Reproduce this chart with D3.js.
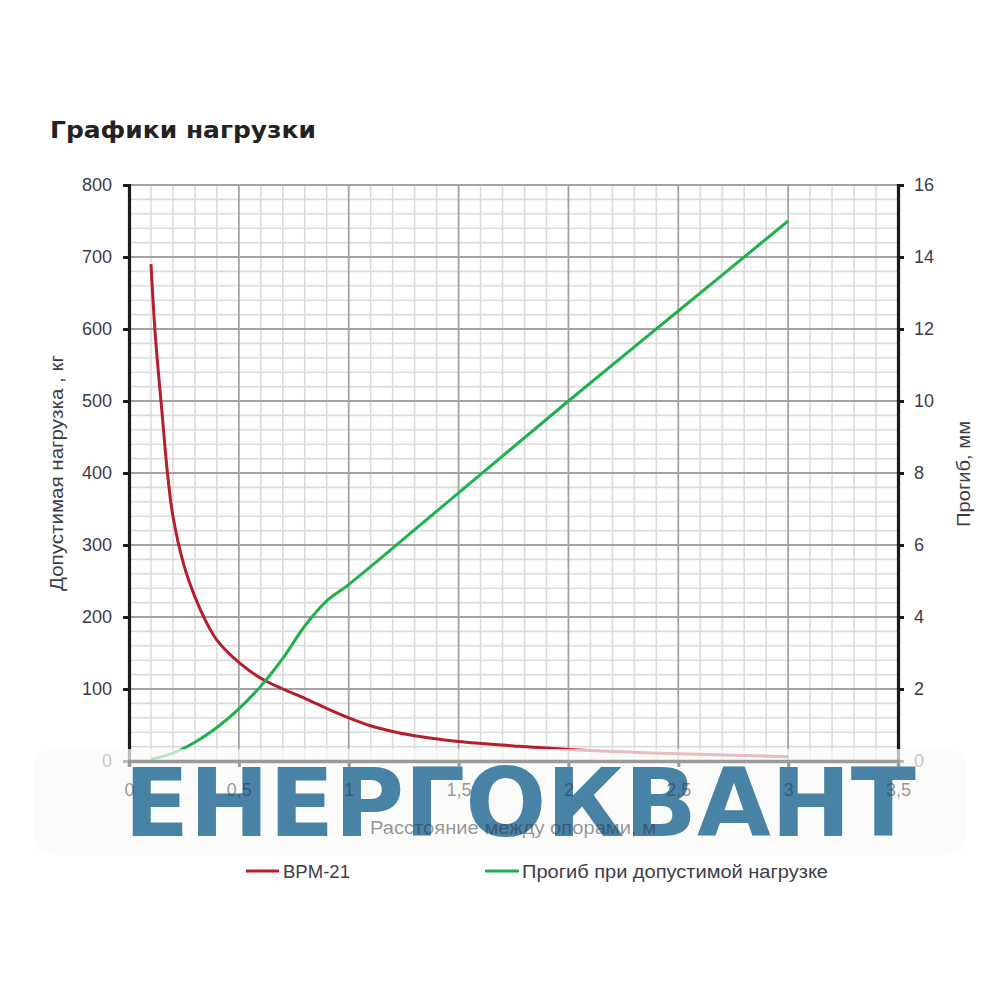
<!DOCTYPE html>
<html><head><meta charset="utf-8">
<script src="https://cdn.jsdelivr.net/npm/d3@7"></script>
<style>body{margin:0;background:#fff}</style>
</head><body>
<svg id="c" width="1000" height="1000"></svg>
<script>
const title = "Графики нагрузки";
const xTicks = [0,0.5,1,1.5,2,2.5,3,3.5];
const leftTicks = [0,100,200,300,400,500,600,700,800];
const rightTicks = [0,2,4,6,8,10,12,14,16];
const loadX = [0.1,0.12,0.15,0.175,0.2,0.25,0.3,0.35,0.4,0.5,0.6,0.7,0.8,0.9,1.0,1.1,1.2,1.3,1.5,1.75,2,2.5,3];
const loadY = [690,590,485,400,340,272,228,194,168,137,115,100,87,73,60,49,41,35,27,21,16,10,6];
const defX = [0.1,0.2,0.3,0.4,0.5,0.6,0.7,0.8,0.9,1.0,1.5,2,2.5,3];
const defY = [0.05,0.22,0.52,0.93,1.45,2.08,2.85,3.75,4.45,4.9,7.45,10,12.5,15];
const seriesNames = ["BPM-21","Прогиб при допустимой нагрузке"];
const seriesColors = ["#b51f2b","#1fb14c"];
const watermark = "ЕНЕРГОКВАНТ";

const svg = d3.select("#c");
const x = d3.scaleLinear().domain([0,3.5]).range([129,898]);
const yL = d3.scaleLinear().domain([0,800]).range([761,185]);
const yR = d3.scaleLinear().domain([0,16]).range([761,185]);
const font = "'Liberation Sans', Arial, sans-serif";
const tickCol = "#3d3d48";
const fs = 18;

// minor grid
const g = svg.append("g");
g.selectAll(".mv").data(d3.range(0,36).map(i=>i/10).filter(v=>Math.round(v*10)%5!==0))
 .join("line").attr("x1",d=>x(d)).attr("x2",d=>x(d)).attr("y1",185).attr("y2",761)
 .attr("stroke","#dcdcdc").attr("stroke-width",1.6);
g.selectAll(".mh").data(d3.range(0,801,20).filter(v=>v%100!==0))
 .join("line").attr("x1",129).attr("x2",898).attr("y1",d=>yL(d)).attr("y2",d=>yL(d))
 .attr("stroke","#dcdcdc").attr("stroke-width",1.6);
// major grid
g.selectAll(".Mv").data(xTicks.slice(1,-1))
 .join("line").attr("x1",d=>x(d)).attr("x2",d=>x(d)).attr("y1",185).attr("y2",761)
 .attr("stroke","#a3a3a3").attr("stroke-width",1.8);
g.selectAll(".Mh").data(leftTicks.slice(1))
 .join("line").attr("x1",129).attr("x2",898).attr("y1",d=>yL(d)).attr("y2",d=>yL(d))
 .attr("stroke","#a3a3a3").attr("stroke-width",1.8);

// axes
const axL = svg.append("g").attr("transform","translate(129,0)")
 .call(d3.axisLeft(yL).tickValues(leftTicks).tickSize(6).tickPadding(11));
const axR = svg.append("g").attr("transform","translate(898,0)")
 .call(d3.axisRight(yR).tickValues(rightTicks).tickSize(6).tickPadding(10));
[axL,axR].forEach(a=>{
  a.select(".domain").attr("stroke","#1a1a1a").attr("stroke-width",3.2);
  a.selectAll(".tick line").attr("stroke","#1a1a1a").attr("stroke-width",3);
  a.selectAll(".tick text").attr("font-family",font).attr("font-size",fs).attr("fill",tickCol);
});

// lines
const lineL = d3.line().x((d,i)=>x(loadX[i])).y(d=>yL(d)).curve(d3.curveCatmullRom.alpha(0.5));
const lineR = d3.line().x((d,i)=>x(defX[i])).y(d=>yR(d)).curve(d3.curveCatmullRom.alpha(0.5));
svg.append("path").attr("d",lineL(loadY)).attr("fill","none").attr("stroke",seriesColors[0]).attr("stroke-width",3);
svg.append("path").attr("d",lineR(defY)).attr("fill","none").attr("stroke",seriesColors[1]).attr("stroke-width",3);

// title and labels
svg.append("text").attr("x",50).attr("y",138).text(title)
 .attr("font-family","'DejaVu Sans', Verdana, sans-serif").attr("font-weight","bold")
 .attr("font-size",23).attr("textLength",266).attr("lengthAdjust","spacingAndGlyphs").attr("fill","#222");
svg.append("text").attr("transform","translate(63,473) rotate(-90)").attr("text-anchor","middle")
 .text("Допустимая нагрузка , кг").attr("font-family",font).attr("font-size",fs)
 .attr("textLength",236).attr("lengthAdjust","spacingAndGlyphs").attr("fill",tickCol);
svg.append("text").attr("transform","translate(970,474) rotate(-90)").attr("text-anchor","middle")
 .text("Прогиб, мм").attr("font-family",font).attr("font-size",fs)
 .attr("textLength",106).attr("lengthAdjust","spacingAndGlyphs").attr("fill",tickCol);

// legend
const leg = [[246,279,283,67],[485,519,522,306]];
leg.forEach((p,i)=>{
  svg.append("line").attr("x1",p[0]).attr("x2",p[1]).attr("y1",871).attr("y2",871)
   .attr("stroke",seriesColors[i]).attr("stroke-width",3);
  svg.append("text").attr("x",p[2]).attr("y",877.5).text(seriesNames[i])
   .attr("font-family",font).attr("font-size",fs)
   .attr("textLength",p[3]).attr("lengthAdjust","spacingAndGlyphs").attr("fill",tickCol);
});

// watermark band
svg.append("rect").attr("x",33).attr("y",749).attr("width",934).attr("height",106).attr("rx",22)
 .attr("fill","#faf9f7").attr("fill-opacity",0.72);
svg.append("text").attr("x",124).attr("y",836).text(watermark)
 .attr("font-family","'DejaVu Sans', sans-serif").attr("font-weight","bold").attr("font-size",94)
 .attr("textLength",792).attr("lengthAdjust","spacingAndGlyphs")
 .attr("fill","#4883a6");

// bottom axis on top of band, labels semi-transparent
const axB = svg.append("g").attr("transform","translate(0,761)")
 .call(d3.axisBottom(x).tickValues(xTicks).tickSize(6).tickPadding(16).tickFormat(d=>String(d).replace(".",",")));
axB.select(".domain").attr("stroke","#9a9a9a").attr("stroke-width",3.5);
axB.selectAll(".tick line").attr("stroke","#9a9a9a").attr("stroke-width",3);
axB.selectAll(".tick text").attr("font-family",font).attr("font-size",fs).attr("fill","#30303a").attr("fill-opacity",0.5);
svg.append("text").attr("x",513).attr("y",834).attr("text-anchor","middle")
 .text("Расстояние между опорами, м").attr("font-family",font).attr("font-size",fs)
 .attr("textLength",286).attr("lengthAdjust","spacingAndGlyphs")
 .attr("fill","#30303a").attr("fill-opacity",0.5);
</script>
</body></html>
